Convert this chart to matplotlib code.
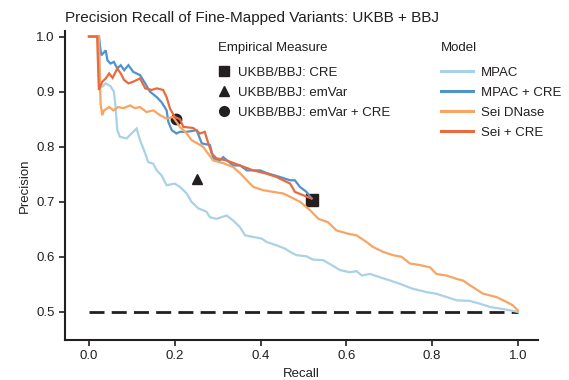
import matplotlib
matplotlib.use("Agg")
import matplotlib.pyplot as plt
from matplotlib.lines import Line2D

plt.rcParams['font.family'] = ['Liberation Sans', 'DejaVu Sans']

# ---- data ----
mpac_rec = [0, 0.024, 0.025, 0.031, 0.039, 0.050, 0.058, 0.062, 0.064, 0.066, 0.072, 0.088, 0.099, 0.111,
            0.119, 0.131, 0.138, 0.150, 0.158, 0.169, 0.181, 0.200, 0.212, 0.228, 0.239, 0.255, 0.274,
            0.282, 0.297, 0.321, 0.336, 0.352, 0.364, 0.383, 0.403, 0.414, 0.437, 0.457, 0.469, 0.484,
            0.507, 0.522, 0.546, 0.566, 0.585, 0.608, 0.624, 0.636, 0.655, 0.678, 0.702, 0.725, 0.755,
            0.787, 0.810, 0.834, 0.857, 0.888, 0.911, 0.935, 0.958, 0.981, 1.0]
mpac_prec = [1.0, 1.0, 0.909, 0.909, 0.915, 0.910, 0.900, 0.872, 0.850, 0.830, 0.818, 0.815, 0.824, 0.833,
             0.812, 0.788, 0.772, 0.769, 0.757, 0.748, 0.730, 0.733, 0.727, 0.715, 0.700, 0.688, 0.682,
             0.672, 0.669, 0.675, 0.666, 0.654, 0.639, 0.636, 0.633, 0.627, 0.621, 0.615, 0.609, 0.603,
             0.601, 0.595, 0.594, 0.585, 0.576, 0.572, 0.574, 0.566, 0.569, 0.563, 0.557, 0.551, 0.542,
             0.536, 0.533, 0.527, 0.521, 0.520, 0.515, 0.509, 0.506, 0.503, 0.500]

mpac_cre_rec = [0, 0.023, 0.027, 0.029, 0.039, 0.043, 0.050, 0.058, 0.066, 0.074, 0.082, 0.092, 0.103,
                0.119, 0.131, 0.142, 0.158, 0.169, 0.181, 0.185, 0.193, 0.204, 0.212, 0.228, 0.251, 0.263,
                0.282, 0.290, 0.305, 0.313, 0.336, 0.352, 0.368, 0.399, 0.415, 0.445, 0.469, 0.480,
                0.492, 0.507, 0.519]
mpac_cre_prec = [1.0, 1.0, 0.975, 0.966, 0.975, 0.957, 0.951, 0.954, 0.942, 0.948, 0.939, 0.948, 0.936,
                 0.930, 0.915, 0.900, 0.890, 0.881, 0.866, 0.845, 0.830, 0.824, 0.827, 0.827, 0.830, 0.806,
                 0.803, 0.779, 0.775, 0.781, 0.766, 0.766, 0.757, 0.757, 0.752, 0.745, 0.739, 0.739,
                 0.727, 0.718, 0.706]

sei_rec = [0, 0.023, 0.027, 0.031, 0.035, 0.047, 0.057, 0.068, 0.080, 0.096, 0.107, 0.119, 0.134,
           0.150, 0.166, 0.181, 0.196, 0.212, 0.228, 0.239, 0.266, 0.277, 0.290, 0.313, 0.336, 0.352,
           0.368, 0.383, 0.406, 0.429, 0.453, 0.469, 0.492, 0.515, 0.535, 0.557, 0.577, 0.604, 0.624,
           0.647, 0.662, 0.686, 0.709, 0.729, 0.748, 0.772, 0.795, 0.810, 0.834, 0.857, 0.872, 0.895,
           0.919, 0.935, 0.950, 0.974, 0.988, 1.0]
sei_prec = [1.0, 1.0, 0.878, 0.857, 0.866, 0.872, 0.866, 0.872, 0.870, 0.875, 0.870, 0.872, 0.863,
            0.866, 0.857, 0.851, 0.854, 0.836, 0.824, 0.812, 0.800, 0.788, 0.775, 0.770, 0.763, 0.752,
            0.739, 0.727, 0.721, 0.718, 0.715, 0.709, 0.700, 0.685, 0.669, 0.663, 0.648, 0.642, 0.639,
            0.627, 0.618, 0.609, 0.603, 0.600, 0.588, 0.585, 0.581, 0.569, 0.566, 0.560, 0.557, 0.545,
            0.533, 0.530, 0.527, 0.518, 0.512, 0.503]

sei_cre_rec = [0, 0.019, 0.023, 0.031, 0.039, 0.047, 0.055, 0.066, 0.074, 0.082, 0.092,
               0.103, 0.119, 0.131, 0.146, 0.158, 0.173, 0.181, 0.189, 0.200, 0.212, 0.220, 0.243, 0.259,
               0.270, 0.277, 0.286, 0.297, 0.321, 0.352, 0.383, 0.414, 0.437, 0.453, 0.469, 0.480,
               0.499, 0.519]
sei_cre_prec = [1.0, 1.0, 0.903, 0.918, 0.924, 0.933, 0.925, 0.942, 0.933, 0.921, 0.915,
                0.918, 0.924, 0.906, 0.903, 0.906, 0.903, 0.890, 0.869, 0.854, 0.850, 0.836, 0.834, 0.824,
                0.827, 0.809, 0.788, 0.779, 0.775, 0.766, 0.757, 0.751, 0.745, 0.739, 0.733, 0.718,
                0.712, 0.706]

models = ["MPAC", "MPAC + CRE", "Sei DNase", "Sei + CRE"]
model_colors = ["#a9d1e7", "#4f93cc", "#f8a462", "#ea6a40"]

emp_labels = ["UKBB/BBJ: CRE", "UKBB/BBJ: emVar", "UKBB/BBJ: emVar + CRE"]
emp_markers = ["s", "^", "o"]
emp_recall = [0.519, 0.251, 0.202]
emp_precision = [0.704, 0.742, 0.851]

baseline = 0.5

# ---- figure ----
fig = plt.figure(figsize=(5.69, 3.80), dpi=100)
ax = fig.add_axes([0.1142, 0.1053, 0.8313, 0.8137])

dark = "#231f20"
for r, p, m in zip(emp_recall, emp_precision, emp_markers):
    ax.plot(r, p, marker=m, color=dark, ms=8 if m == 's' else 7.5, linestyle='none', zorder=2)

curves = [(mpac_rec, mpac_prec), (mpac_cre_rec, mpac_cre_prec), (sei_rec, sei_prec), (sei_cre_rec, sei_cre_prec)]
for (r, p), c in zip(curves, model_colors):
    ax.plot(r, p, color=c, lw=1.6, zorder=3, solid_joinstyle='miter')

ax.plot([0, 1], [baseline, baseline], color=dark, lw=2, dashes=(5.4, 2.6), zorder=1)

ax.set_xlim(-0.056, 1.047)
ax.set_ylim(0.449, 1.0105)
ax.set_xticks([0, 0.2, 0.4, 0.6, 0.8, 1.0])
ax.set_yticks([0.5, 0.6, 0.7, 0.8, 0.9, 1.0])
ax.set_xticklabels(["0.0", "0.2", "0.4", "0.6", "0.8", "1.0"])
ax.set_yticklabels(["0.5", "0.6", "0.7", "0.8", "0.9", "1.0"])
ax.tick_params(labelsize=9.5, length=4, width=1.2, color=dark, labelcolor=dark)
for s in ['top', 'right']:
    ax.spines[s].set_visible(False)
for s in ['left', 'bottom']:
    ax.spines[s].set_linewidth(1.5)
    ax.spines[s].set_color(dark)
ax.set_xlabel("Recall", fontsize=9.5, color=dark)
ax.set_ylabel("Precision", fontsize=9.5, color=dark)
ax.set_title("Precision Recall of Fine-Mapped Variants: UKBB + BBJ", loc='left', fontsize=11, color=dark, pad=6)

emp_handles = [Line2D([], [], marker=m, color=dark, linestyle='none', ms=7) for m in emp_markers]
leg1 = ax.legend(emp_handles, emp_labels, title="Empirical Measure", loc='upper left',
                 bbox_to_anchor=(0.371, 0.908), bbox_transform=fig.transFigure, frameon=False,
                 fontsize=9.5, title_fontsize=9.5, handlelength=1.0, handletextpad=0.55,
                 labelspacing=0.6, alignment='left', borderpad=0)
ax.add_artist(leg1)
mod_handles = [Line2D([], [], color=c, lw=2.2) for c in model_colors]
leg2 = ax.legend(mod_handles, models, title="Model", loc='upper left',
                 bbox_to_anchor=(0.764, 0.908), bbox_transform=fig.transFigure, frameon=False,
                 fontsize=9.5, title_fontsize=9.5, handlelength=2.4, handletextpad=0.6,
                 labelspacing=0.6, alignment='left', borderpad=0)
for leg in (leg1, leg2):
    for t in leg.get_texts():
        t.set_color(dark)
    leg.get_title().set_color(dark)
    leg._legend_box.sep = 0.6 * 9.5 + 3.5

fig.savefig("out.png", dpi=100)
